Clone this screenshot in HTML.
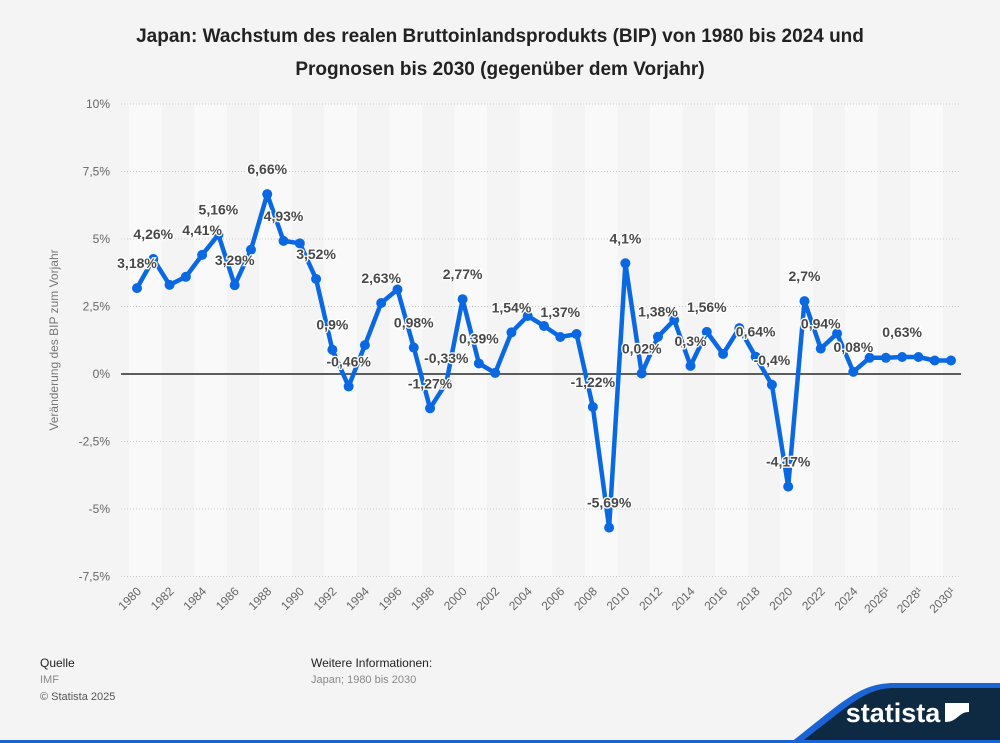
<!DOCTYPE html>
<html><head><meta charset="utf-8"><style>
body{margin:0;width:1000px;height:743px;background:#f4f4f4;font-family:"Liberation Sans",sans-serif;overflow:hidden;position:relative}
</style></head><body>
<svg id="chart" width="1000" height="743" style="position:absolute;left:0;top:0">
<text x="500" y="42" text-anchor="middle" font-size="19" font-weight="bold" fill="#222">Japan: Wachstum des realen Bruttoinlandsprodukts (BIP) von 1980 bis 2024 und</text>
<text x="500" y="75" text-anchor="middle" font-size="19" font-weight="bold" fill="#222">Prognosen bis 2030 (gegenüber dem Vorjahr)</text>
<g id="stripes"></g><g id="grid"></g><g id="xt"></g>
<text transform="translate(58,340) rotate(-90)" text-anchor="middle" font-size="12" fill="#777">Veränderung des BIP zum Vorjahr</text>
<g id="series"></g><g id="labels"></g>
<text x="40" y="667" font-size="12" fill="#222">Quelle</text>
<text x="40" y="683" font-size="11" fill="#888">IMF</text>
<text x="40" y="700" font-size="11" fill="#555">© Statista 2025</text>
<text x="311" y="667" font-size="12" fill="#222">Weitere Informationen:</text>
<text x="311" y="683" font-size="11" fill="#888">Japan; 1980 bis 2030</text>
<g>
<path d="M790,743 C845,700 860,683 895,683 L1000,683 L1000,743 Z" fill="#1a64d6"/>
<path d="M800,743 C850,705 865,688 895,688 L1000,688 L1000,743 Z" fill="#0e2a42"/>
<text x="893" y="722" text-anchor="middle" font-size="27" font-weight="bold" fill="#fff">statista</text>
<path d="M945,703 L969,703 L969,712 C958,712 958,722 945,722 Z" fill="#fff"/>
</g>
<rect x="0" y="740" width="1000" height="3" fill="#1a64d6"/>
</svg>
<script>
const years=[];for(let y=1980;y<=2030;y++)years.push(y);
const growth=[3.18,4.26,3.3,3.6,4.41,5.16,3.29,4.6,6.66,4.93,4.84,3.52,0.9,-0.46,1.07,2.63,3.13,0.98,-1.27,-0.33,2.77,0.39,0.04,1.54,2.15,1.78,1.37,1.48,-1.22,-5.69,4.1,0.02,1.38,2.0,0.3,1.56,0.74,1.7,0.64,-0.4,-4.17,2.7,0.94,1.5,0.08,0.6,0.6,0.63,0.63,0.5,0.5];
const labelYears=[1980,1981,1984,1985,1986,1988,1989,1991,1992,1993,1995,1997,1998,1999,2000,2001,2003,2006,2008,2009,2010,2011,2012,2014,2015,2018,2019,2020,2021,2022,2024,2027];
const yTicks=[10,7.5,5,2.5,0,-2.5,-5,-7.5];
const yTickLabels=["10%","7,5%","5%","2,5%","0%","-2,5%","-5%","-7,5%"];
const xTickLabels=["1980","1982","1984","1986","1988","1990","1992","1994","1996","1998","2000","2002","2004","2006","2008","2010","2012","2014","2016","2018","2020","2022","2024","2026¹","2028¹","2030¹"];
const NS="http://www.w3.org/2000/svg";
const X=y=>137+(y-1980)*(951-137)/50;
const Y=v=>374-v*27;
function mk(t,a,p){const e=document.createElementNS(NS,t);for(const k in a)e.setAttribute(k,a[k]);p.appendChild(e);return e;}
const st=document.getElementById('stripes');
for(let y=1980;y<2030;y+=4){const r=mk('rect',{x:X(y)-8,y:Y(10),width:X(y+2)-X(y),height:Y(-7.5)-Y(10),fill:'#f9f9f9'},st);

}
const g=document.getElementById('grid');
yTicks.forEach((v,i)=>{const l=mk('line',{x1:121,x2:961,y1:Y(v),y2:Y(v),stroke:v===0?'#000':'#ccc','stroke-width':v===0?1.3:1,'stroke-dasharray':v===0?'':'1,2'},g);


const t=mk('text',{x:110,y:Y(v)+4,'text-anchor':'end','font-size':12,fill:'#666'},g);t.textContent=yTickLabels[i];

});
const xt=document.getElementById('xt');
xTickLabels.forEach((s,i)=>{const x=X(1980+2*i)+5,yy=592;const t=mk('text',{x:x,y:yy,'text-anchor':'end','font-size':12,fill:'#666',transform:`rotate(-45 ${x} ${yy})`},xt);t.textContent=s;

});
const se=document.getElementById('series');
const p=mk('polyline',{points:years.map((y,i)=>X(y)+','+Y(growth[i])).join(' '),fill:'none',stroke:'#0b68e3','stroke-width':4.5,'stroke-linejoin':'round'},se);


years.forEach((y,i)=>{const c=mk('circle',{cx:X(y),cy:Y(growth[i]),r:5,fill:'#0b68e3'},se);

});
const lb=document.getElementById('labels');
labelYears.forEach(y=>{const v=growth[y-1980];const t=mk('text',{x:X(y),y:Y(v)-20,'text-anchor':'middle','font-size':14,'font-weight':'bold',fill:'#484848',stroke:'#fff','stroke-width':2.5,'paint-order':'stroke'},lb);
t.textContent=String(v).replace('.',',')+'%';

});
</script>
</body></html>
